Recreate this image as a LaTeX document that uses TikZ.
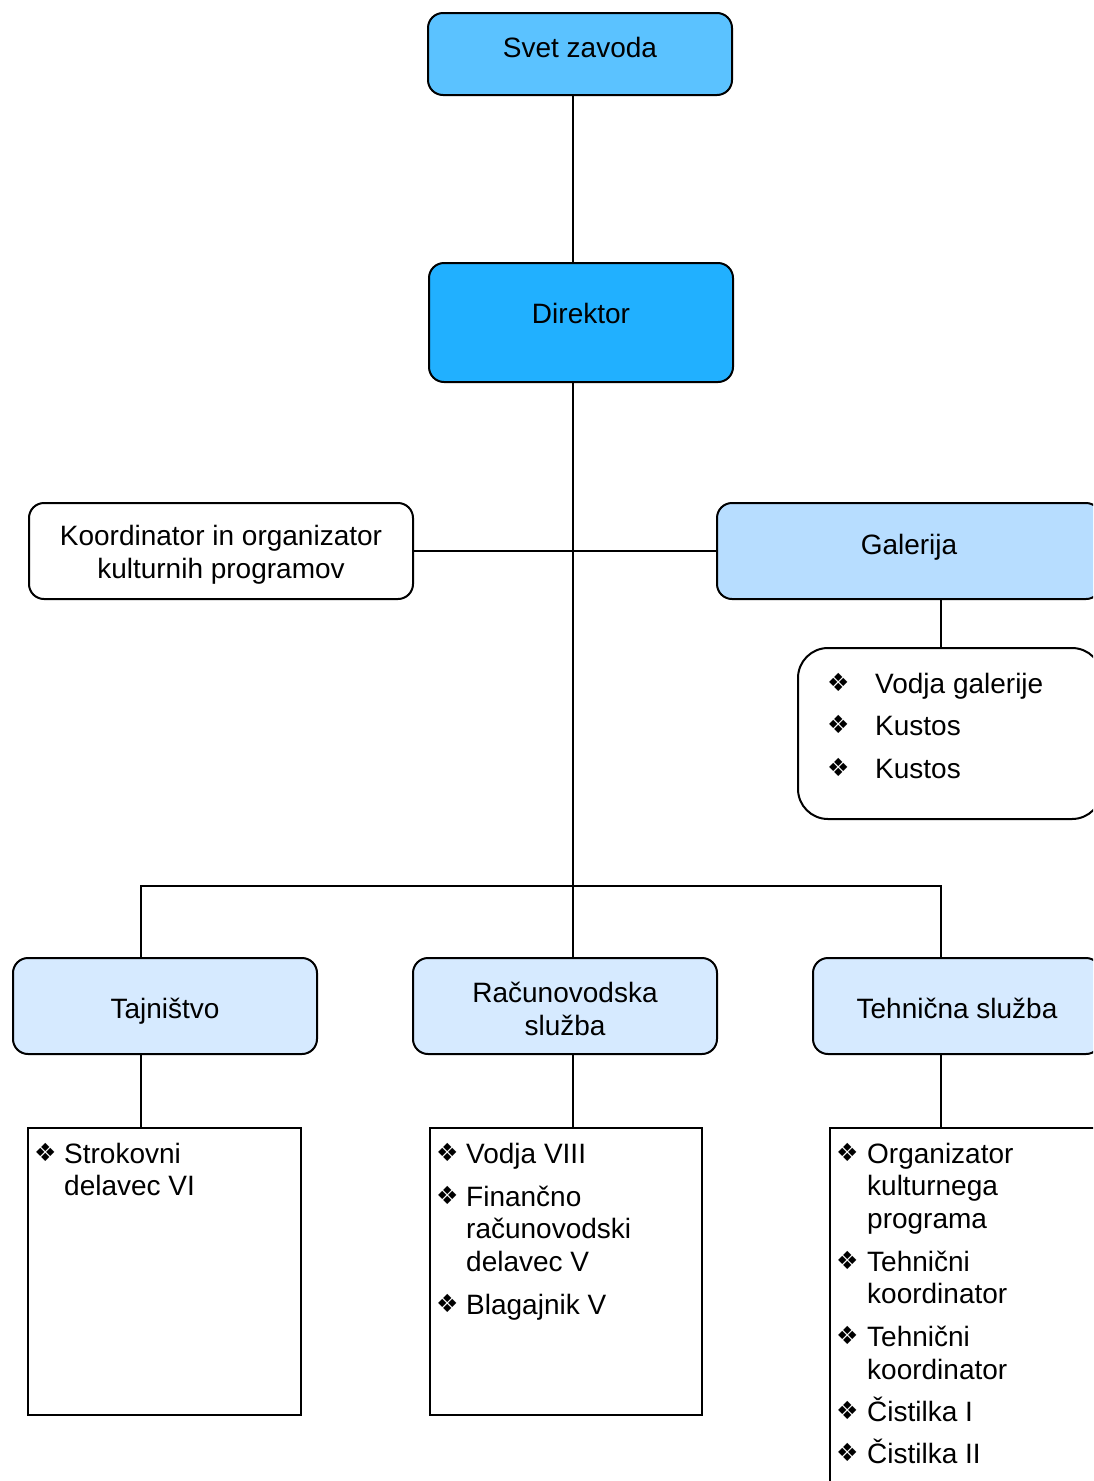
\documentclass[tikz,border=0pt]{standalone}
\usepackage{fontspec}
\setmainfont{Liberation Sans}
\newfontfamily\dejavu{DejaVu Sans}
\definecolor{cSvet}{HTML}{5BC2FF}
\definecolor{cDir}{HTML}{21B0FF}
\definecolor{cGal}{HTML}{B7DDFF}
\definecolor{cDept}{HTML}{D6EAFF}
\newcommand\bul{\raisebox{2pt}{\dejavu\fontsize{25}{25}\selectfont ❖}}
\newcommand\B[1][30pt]{\makebox[#1][l]{\bul}}
\newcommand\lfont{\fontsize{28}{32.5}\selectfont\spaceskip=0pt\relax\xspaceskip=0pt\relax}
\begin{document}
\begin{tikzpicture}[x=1pt,y=-1pt,
  rbox/.style={draw=black, line width=2pt, rounded corners=15pt, inner sep=0pt,
    align=center, font=\fontsize{28}{33}\selectfont},
  lbox/.style={draw=black, line width=2pt, inner sep=0pt, anchor=north west},
  ltext/.style={inner sep=0pt, anchor=north west, font=\lfont},
  conn/.style={draw=black, line width=1.6pt}]
\useasboundingbox (0,0) rectangle (1093,1481);
\clip (0,0) rectangle (1093,1481);
% top boxes
\node[rbox, fill=cSvet, minimum width=304, minimum height=82, text height=20pt, text depth=14pt] (svet) at (580,54) {Svet zavoda};
\node[rbox, fill=cDir, minimum width=304, minimum height=119, text height=20pt, text depth=19pt] (direk) at (581,322.5) {Direktor};
\node[rbox, fill=white, minimum width=384, minimum height=96] (koord) at (221,551) {\rule{0pt}{28pt}Koordinator in organizator\\kulturnih programov};
\node[rbox, fill=cGal, minimum width=384, minimum height=96, text height=20pt, text depth=14pt] (gal) at (909,551) {Galerija};
\node[rbox, fill=white, rounded corners=30pt, minimum width=304, minimum height=171, anchor=north west] (gall) at (797,647) {};
\node[ltext] (gallt) at (827,670.25) {\begin{tabular}{@{}l@{}l@{}}
  \B[48pt] & Vodja galerije\\[10pt]
  \B[48pt] & Kustos\\[10pt]
  \B[48pt] & Kustos
  \end{tabular}};
% departments
\node[rbox, fill=cDept, minimum width=304, minimum height=96, text height=24pt, text depth=0pt] (taj) at (165,1006) {Tajništvo};
\node[rbox, fill=cDept, minimum width=304, minimum height=96] (rac) at (565,1006) {\rule{0pt}{27pt}Računovodska\\služba};
\node[rbox, fill=cDept, minimum width=288, minimum height=96, text height=24pt, text depth=0pt] (teh) at (957,1006) {Tehnična služba};
% lists
\node[lbox, minimum width=273, minimum height=287] (tajl) at (27,1127) {};
\node[lbox, minimum width=272, minimum height=287] (racl) at (429,1127) {};
\node[lbox, minimum width=272, minimum height=420] (tehl) at (829,1127) {};
\node[ltext] (tajt) at (34,1140.25) {\begin{tabular}{@{}l@{}l@{}}
  \B & Strokovni\\
     & delavec VI
  \end{tabular}};
\node[ltext] (ract) at (436,1140.25) {\begin{tabular}{@{}l@{}l@{}}
  \B & Vodja VIII\\[10.5pt]
  \B & Finančno\\
     & računovodski\\
     & delavec V\\[10.5pt]
  \B & Blagajnik V
  \end{tabular}};
\node[ltext] (teht) at (836,1140.25) {\begin{tabular}{@{}l@{}l@{}}
  \B[31pt] & Organizator\\
           & kulturnega\\
           & programa\\[10.5pt]
  \B[31pt] & Tehnični\\
           & koordinator\\[10.5pt]
  \B[31pt] & Tehnični\\
           & koordinator\\[8pt]
  \B[31pt] & Čistilka I\\[8pt]
  \B[31pt] & Čistilka II
  \end{tabular}};
% connector coordinates
\coordinate (mainx) at (573,0);
\coordinate (galx) at (941,0);
\coordinate (tajx) at (141,0);
\coordinate (bus) at (0,886);
% connectors
\draw[conn] (svet.south -| mainx) -- (direk.north -| mainx);
\draw[conn] (direk.south -| mainx) -- (rac.north -| mainx);
\draw[conn] (koord.east) -- (gal.west);
\draw[conn] (gal.south -| galx) -- (gall.north -| galx);
\draw[conn] (taj.north -| tajx) -- (tajx |- bus) -- (galx |- bus) -- (teh.north -| galx);
\draw[conn] (taj.south -| tajx) -- (tajl.north -| tajx);
\draw[conn] (rac.south -| mainx) -- (racl.north -| mainx);
\draw[conn] (teh.south -| galx) -- (tehl.north -| galx);
\end{tikzpicture}
\end{document}
